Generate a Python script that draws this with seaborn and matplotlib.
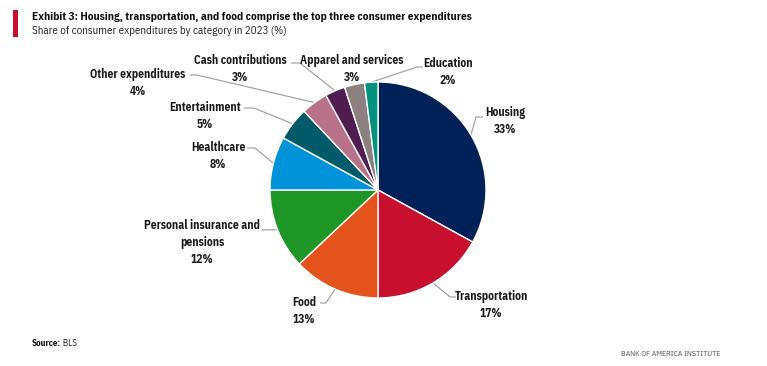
import numpy as np
import matplotlib
matplotlib.use("Agg")
import matplotlib.pyplot as plt
import seaborn as sns
from matplotlib import font_manager

categories = ["Housing", "Transportation", "Food", "Personal insurance and\npensions",
              "Healthcare", "Entertainment", "Other expenditures", "Cash contributions",
              "Apparel and services", "Education"]
shares = [33, 17, 13, 12, 8, 5, 4, 3, 3, 2]
colors = ["#002157", "#C8102E", "#E4531B", "#1E9626", "#0093D9", "#005A6A",
          "#B8738A", "#4F1D4F", "#8C7F80", "#00917F"]

sns.set_theme(style="white")
names = {f.name for f in font_manager.fontManager.ttflist}
cond = "IBM Plex Sans Condensed" if "IBM Plex Sans Condensed" in names else "DejaVu Sans"
plt.rcParams["font.family"] = [cond, "DejaVu Sans"]

W, H = 767, 366
fig = plt.figure(figsize=(W / 100, H / 100), dpi=100)
ax = fig.add_axes([0, 0, 1, 1])
ax.set_xlim(0, W)
ax.set_ylim(H, 0)
ax.axis("off")

cx, cy, R = 378, 190, 108
pax = fig.add_axes([(cx - R) / W, (H - cy - R) / H, 2 * R / W, 2 * R / H])
wedges, _ = pax.pie(shares, colors=colors, startangle=90, counterclock=False,
                    radius=1.0, wedgeprops=dict(edgecolor="white", linewidth=1.0))
pax.set_xlim(-1, 1)
pax.set_ylim(-1, 1)
pax.set_aspect("equal")
pax.axis("off")

# label layout: text center x, first-line center y, elbow point, line end point (pixels)
layout = [
    dict(tx=505, ty=113, elbow=(476, 117), end=(483, 117)),
    dict(tx=491, ty=297, elbow=(450, 297), end=(456, 297)),
    dict(tx=304, ty=303, elbow=(326, 303), end=(320, 303)),
    dict(tx=202, ty=226, elbow=(264, 230), end=(262, 230)),
    dict(tx=218, ty=148, elbow=(255, 148), end=(247, 148)),
    dict(tx=205, ty=108, elbow=(254, 108), end=(244, 108)),
    dict(tx=138, ty=75, elbow=(197, 75), end=(190, 75)),
    dict(tx=240, ty=61, elbow=(300, 63), end=(291, 63)),
    dict(tx=352, ty=61, elbow=None, end=None),
    dict(tx=448, ty=64, elbow=(417, 67), end=(423, 67)),
]

txt_col = "#1a1a1a"
fs = 8.3
for w, cat, v, lay in zip(wedges, categories, shares, layout):
    ang = np.deg2rad((w.theta1 + w.theta2) / 2)
    px = cx + R * np.cos(ang)
    py = cy - R * np.sin(ang)
    if lay["elbow"] is not None:
        ex, ey = lay["elbow"]
        fx, fy = lay["end"]
        ax.plot([px, ex, fx], [py, ey, fy], color="#9a9a9a", lw=0.8,
                solid_capstyle="butt")
    ax.text(lay["tx"], lay["ty"] - 7, f"{cat}\n{v}%", ha="center", va="top",
            fontsize=fs, fontweight="bold", color=txt_col, linespacing=1.38)

# title block
ax.add_patch(plt.Rectangle((13, 10), 5, 27, color="#C8102E", lw=0))
ax.text(32, 17, "Exhibit 3: Housing, transportation, and food comprise the top three consumer expenditures",
        ha="left", va="center", fontsize=8.2, fontweight="bold", color="#111111")
ax.text(32, 31, "Share of consumer expenditures by category in 2023 (%)",
        ha="left", va="center", fontsize=7.9, color="#222222")

t = ax.text(32, 343, "Source:", ha="left", va="center", fontsize=6.5, fontweight="bold", color="#111111")
ax.annotate(" BLS", xycoords=t, xy=(1, 0.5), va="center", ha="left", fontsize=6.5, color="#222222")
ax.text(720, 354, "BANK OF AMERICA INSTITUTE", ha="right", va="center", fontsize=5.7, color="#555555")

fig.savefig("out.png", dpi=100, facecolor="white")
